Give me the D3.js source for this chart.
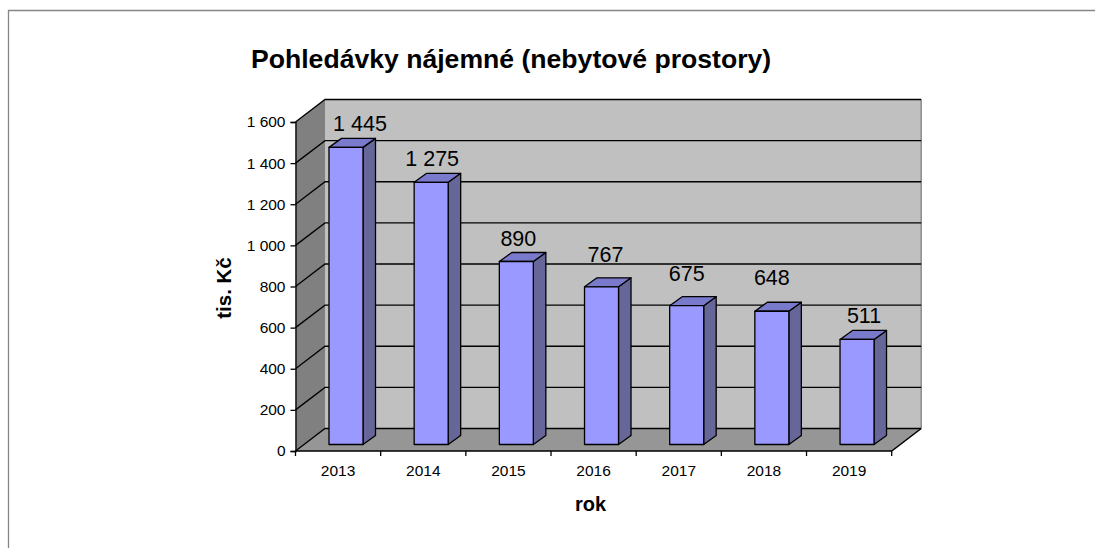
<!DOCTYPE html>
<html>
<head>
<meta charset="utf-8">
<script src="https://cdn.jsdelivr.net/npm/d3@7"></script>
<style>
html,body{margin:0;padding:0;background:#fff;}
svg{display:block;}
text{font-family:"Liberation Sans",Arial,sans-serif;fill:#000;}
</style>
</head>
<body>
<svg id="chart" width="1095" height="548"></svg>
<script>
var years = ["2013","2014","2015","2016","2017","2018","2019"];
var values = [1445,1275,890,767,675,648,511];
var yTicks = [0,200,400,600,800,1000,1200,1400,1600];

// hand placed label nudges, the source chart has them moved around
var labelDx = [14,1,2,4,0,0,7];
var labelDy = [-16,-16,-15,-25,-25,-26,-16];

var svg = d3.select("#chart");
var main = svg.append("g").attr("class","main");

var x = d3.scaleBand().domain(years).range([295.5,891.7]);
var y = d3.scaleLinear().domain([0,1600]).range([451,122]);
var depthX = 29.5, depthY = -22.5;
var fmt = d3.formatLocale({decimal:",",thousands:"\u00a0",grouping:[3],currency:["",""]}).format(",d");
var line = d3.line();

// frame
main.append("path")
    .attr("d", line([[8.5,548],[8.5,10.5],[1095,10.5]]))
    .attr("fill","none").attr("stroke","#868686").attr("stroke-width",1.3);

var x0 = x.range()[0], x1 = x.range()[1], y0 = y(0), yTop = y(1600);

// walls
main.append("path")
    .attr("d", line([[x0,y0],[x0+depthX,y0+depthY],[x0+depthX,yTop+depthY],[x0,yTop]])+"Z")
    .attr("fill","#808080");
main.append("rect")
    .attr("x",x0+depthX).attr("y",yTop+depthY)
    .attr("width",x1-x0).attr("height",y0-yTop)
    .attr("fill","#c0c0c0");
main.append("path")
    .attr("d", line([[x1+depthX,yTop+depthY],[x1+depthX,y0+depthY]]))
    .attr("stroke","#808080").attr("stroke-width",1.3);
main.append("path")
    .attr("d", line([[x0,y0],[x1,y0],[x1+depthX,y0+depthY],[x0+depthX,y0+depthY]])+"Z")
    .attr("fill","#969696");

// gridlines
yTicks.forEach(function(t){
    main.append("path")
        .attr("d", line([[x0,y(t)],[x0+depthX,y(t)+depthY],[x1+depthX,y(t)+depthY]]))
        .attr("fill","none").attr("stroke","#000").attr("stroke-width",1.3);
});
main.append("path")
    .attr("d", line([[x0,y0],[x1,y0],[x1+depthX,y0+depthY]]))
    .attr("fill","none").attr("stroke","#000").attr("stroke-width",1.5);

// bars
var barLeft = 33.5, barW = 34, sideX = 12.5, sideY = -9, floorUp = 6.5;
values.forEach(function(v,i){
    var bx = x(years[i]) + barLeft;
    var by = y(v) - floorUp;
    var bb = y(0) - floorUp;
    var bar = main.append("g").attr("class","bar");

    bar.append("path")
        .attr("d", line([[bx+barW,by],[bx+barW+sideX,by+sideY],[bx+barW+sideX,bb+sideY],[bx+barW,bb]])+"Z")
        .attr("fill","#666699");
    bar.append("path")
        .attr("d", line([[bx,by],[bx+sideX,by+sideY],[bx+barW+sideX,by+sideY],[bx+barW,by]])+"Z")
        .attr("fill","#7a7acc");
    bar.append("rect")
        .attr("x",bx).attr("y",by).attr("width",barW).attr("height",bb-by)
        .attr("fill","#9999ff");
    bar.selectAll("path,rect")
        .attr("stroke","#000").attr("stroke-width",1.3).attr("stroke-linejoin","round");

    bar.append("text")
        .attr("x",bx+barW/2+labelDx[i])
        .attr("y",by+labelDy[i])
        .attr("text-anchor","middle")
        .style("font-size","21.5px")
        .text(fmt(v));
});

// axes
var yAxis = main.append("g")
    .attr("transform","translate("+x0+",0)")
    .call(d3.axisLeft(y).tickValues(yTicks).tickFormat(fmt).tickSize(5).tickPadding(5));
var xAxis = main.append("g")
    .attr("transform","translate(0,"+y0+")")
    .call(d3.axisBottom(x).tickSize(0).tickPadding(14));
xAxis.select(".domain").remove();
yAxis.selectAll("text").style("font-size","15.5px");
xAxis.selectAll("text").style("font-size","15.5px");
yAxis.selectAll("line,.domain").attr("stroke","#000").attr("stroke-width",1.3);
d3.range(years.length+1).forEach(function(i){
    var px = x0 + i*x.step();
    main.append("line")
        .attr("x1",px).attr("x2",px).attr("y1",y0).attr("y2",y0+5)
        .attr("stroke","#000").attr("stroke-width",1.3);
});

// titles
main.append("text").attr("x",251).attr("y",68)
    .style("font-size","26.6px").style("font-weight","bold")
    .text("Pohledávky nájemné (nebytové prostory)");
main.append("text").attr("x",590.5).attr("y",511)
    .attr("text-anchor","middle")
    .style("font-size","20px").style("font-weight","bold")
    .text("rok");
main.append("text")
    .attr("transform","translate(231,288) rotate(-90)")
    .attr("text-anchor","middle")
    .style("font-size","20.5px").style("font-weight","bold")
    .text("tis. Kč");
</script>
</body>
</html>
